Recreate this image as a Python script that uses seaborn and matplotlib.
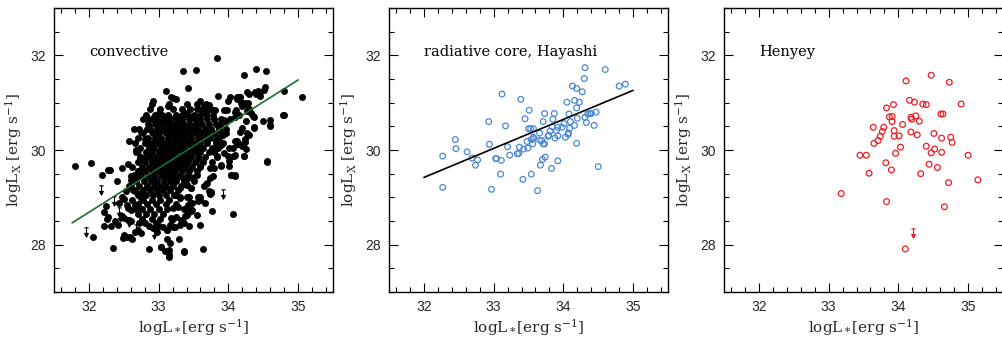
import numpy as np
import pandas as pd
import matplotlib
matplotlib.use("Agg")
import matplotlib.pyplot as plt
import seaborn as sns
from matplotlib.path import Path
from matplotlib.ticker import MultipleLocator

# ---------------- data ----------------
# Panel 1: convective (filled black dots)
conv_core_rows_y = [30.97, 30.86, 30.75, 30.65, 30.55, 30.45, 30.35, 30.25, 30.15, 30.05,
                    29.95, 29.85, 29.75, 29.65, 29.55, 29.45, 29.35, 29.25, 29.15, 29.05]
conv_core_rows_x = [
    [32.90, 33.15, 33.40, 33.55, 33.68],
    [32.88, 33.02, 33.20, 33.33, 33.45, 33.55, 33.62, 33.72],
    [32.82, 32.95, 33.05, 33.14, 33.25, 33.35, 33.42, 33.50, 33.60, 33.68, 33.78],
    [32.78, 32.90, 32.98, 33.08, 33.17, 33.26, 33.34, 33.43, 33.52, 33.60, 33.70, 33.80, 33.90],
    [32.85, 32.95, 33.03, 33.12, 33.20, 33.28, 33.36, 33.45, 33.53, 33.62, 33.72, 33.82],
    [32.72, 32.88, 32.98, 33.06, 33.15, 33.23, 33.32, 33.40, 33.48, 33.57, 33.66, 33.75, 33.86, 33.96],
    [32.78, 32.92, 33.01, 33.10, 33.18, 33.27, 33.35, 33.44, 33.52, 33.61, 33.70, 33.80, 33.90],
    [32.70, 32.85, 32.95, 33.04, 33.13, 33.22, 33.30, 33.38, 33.47, 33.56, 33.65, 33.74, 33.84],
    [32.66, 32.80, 32.90, 32.99, 33.08, 33.17, 33.25, 33.33, 33.42, 33.51, 33.60, 33.70, 33.82, 33.93],
    [32.74, 32.86, 32.94, 33.03, 33.12, 33.20, 33.29, 33.37, 33.46, 33.55, 33.64, 33.76],
    [32.68, 32.82, 32.91, 33.00, 33.08, 33.16, 33.24, 33.33, 33.42, 33.50, 33.60, 33.72],
    [32.75, 32.86, 32.95, 33.04, 33.12, 33.21, 33.29, 33.38, 33.47, 33.56, 33.66],
    [32.70, 32.80, 32.90, 32.99, 33.08, 33.17, 33.25, 33.33, 33.42, 33.52, 33.63, 33.76],
    [32.62, 32.76, 32.86, 32.95, 33.03, 33.12, 33.20, 33.29, 33.38, 33.48, 33.60],
    [32.70, 32.81, 32.90, 32.99, 33.08, 33.16, 33.24, 33.33, 33.44, 33.55],
    [32.60, 32.74, 32.85, 32.94, 33.03, 33.12, 33.20, 33.29, 33.40],
    [32.68, 32.79, 32.89, 32.98, 33.07, 33.16, 33.25, 33.36, 33.50],
    [32.58, 32.72, 32.83, 32.93, 33.02, 33.11, 33.20, 33.32],
    [32.65, 32.77, 32.88, 32.97, 33.06, 33.16, 33.28],
    [32.70, 32.82, 32.92, 33.01, 33.10, 33.22],
]
conv_lower_rows_y = [28.95, 28.85, 28.75, 28.65, 28.55, 28.45]
conv_lower_rows_x = [
    [32.62, 32.78, 32.90, 33.02, 33.15],
    [32.70, 32.84, 32.96, 33.10],
    [32.76, 32.88, 33.00, 33.12],
    [32.70, 32.82, 32.94, 33.06],
    [32.76, 32.90, 33.02],
    [32.72, 32.96],
]
conv_x = [31.80, 32.03, 32.06, 32.19, 32.24, 32.27, 32.30, 32.35, 32.40, 32.48, 32.56, 32.49, 32.55, 32.62,
          32.58, 32.64, 32.86, 33.04, 33.09, 33.15, 33.15, 33.37, 33.63, 33.29, 33.12, 33.16, 33.59, 33.77,
          34.07, 34.09, 34.04, 33.84, 33.54, 33.35, 33.42, 33.10, 33.20, 33.25, 33.18, 32.92, 33.59, 34.22,
          34.40, 34.54, 34.02, 33.85, 34.80, 35.05, 34.80, 34.59, 34.60, 34.50, 34.56, 34.37, 34.37,
          34.27, 34.30, 34.38, 34.42, 34.40, 34.45, 34.46, 34.51, 34.52, 34.17, 34.12, 34.16,
          34.20, 34.26, 34.29, 34.19, 34.11, 33.98, 34.02, 34.10, 34.26, 34.24, 34.21, 34.13, 34.15,
          34.10, 34.23, 34.02, 34.01, 34.01, 33.90, 33.84, 33.70, 33.65, 33.73, 33.75, 33.60, 33.57,
          33.46, 33.44, 33.43, 33.38, 33.48, 33.30, 33.25, 33.19, 33.12, 33.21,
          33.72, 33.65, 33.75, 33.81, 33.68, 33.94, 34.00, 34.13, 34.18, 34.24, 34.28, 34.27, 34.36, 34.32,
          34.09, 33.94, 33.97, 33.85, 33.88, 34.25, 34.59, 34.78, 34.15, 34.20, 34.16, 34.37, 34.30, 34.24,
          33.97, 33.92, 33.86, 33.82, 33.89, 33.85, 33.80, 34.09, 34.13, 34.06, 34.20, 34.25,
          33.94, 33.83, 33.99, 33.42, 33.56, 34.01, 34.08, 34.22, 34.55, 33.73, 33.79, 33.90, 34.04, 34.10,
          33.47, 33.59, 33.51, 33.55, 33.42, 33.68, 33.74, 33.78, 33.75, 33.72, 33.40, 33.47,
          33.44, 33.59, 33.56, 33.67, 33.45, 33.39, 33.46, 33.48, 33.55,
          33.13, 33.00, 33.01, 32.97, 33.12, 33.23, 33.16, 33.39, 33.34, 32.84, 32.94,
          32.83, 32.75, 32.86, 32.90, 32.67, 32.70, 32.74, 32.81, 32.83, 32.73, 32.75, 32.80,
          32.70, 32.70, 32.64, 32.75, 32.61, 32.61, 32.63, 32.53, 32.68, 32.73, 32.75,
          32.47, 32.51, 32.54, 32.43, 32.56, 32.61, 32.66, 32.68, 32.47, 32.51, 32.56, 32.61,
          32.37, 32.42, 32.22, 32.28, 32.26, 32.22, 32.32, 32.51, 32.59, 32.66, 32.70, 32.75,
          32.81, 32.86, 32.92, 32.97, 33.01, 33.06, 33.12, 33.16, 33.23, 33.30, 33.37, 33.43,
          33.15, 33.04, 33.36, 33.18, 33.25, 33.32, 33.40, 33.20, 33.28, 33.36, 33.42, 33.30, 33.40,
          33.25, 33.30, 33.40, 33.35, 33.42]
conv_y = [29.67, 29.72, 28.17, 29.48, 28.82, 29.58, 29.58, 27.94, 29.35, 29.63, 29.70, 28.14, 28.16, 28.12,
          30.18, 30.45, 27.90, 27.95, 27.87, 27.80, 27.73, 27.87, 27.90, 28.11, 28.11, 28.03, 28.41, 28.71,
          28.65, 29.47, 29.47, 31.95, 31.70, 31.66, 31.32, 31.24, 31.10, 31.08, 31.11, 31.04, 31.03, 31.58,
          31.71, 31.66, 31.13, 31.14, 31.25, 31.13, 30.75, 30.63, 30.51, 30.61, 29.75, 30.46, 30.70,
          31.23, 31.18, 31.23, 31.25, 31.18, 31.15, 31.22, 31.27, 31.34, 31.11, 31.11, 31.12,
          30.94, 30.96, 30.87, 30.99, 30.85, 30.85, 30.65, 30.69, 30.35, 30.16, 30.09, 30.18, 30.13,
          29.89, 29.87, 29.85, 30.04, 29.66, 29.68, 29.87, 29.30, 29.25, 29.07, 29.10, 28.94, 29.01,
          29.19, 28.71, 28.69, 28.61, 28.87, 29.01, 28.85, 28.52, 28.31, 28.38,
          30.95, 30.93, 30.87, 30.84, 30.78, 30.85, 31.04, 31.07, 30.99, 30.99, 30.99, 30.82, 30.72, 30.78,
          30.80, 30.63, 30.60, 30.51, 30.53, 30.61, 30.53, 30.75, 30.73, 30.46, 30.37, 30.49, 30.32, 30.23,
          30.35, 30.32, 30.25, 30.19, 30.11, 30.04, 29.96, 30.18, 30.12, 30.04, 30.08, 30.03,
          29.93, 29.86, 29.87, 29.82, 29.82, 29.77, 29.88, 29.87, 29.77, 29.61, 29.63, 29.67, 29.47, 29.46,
          29.61, 29.66, 29.44, 29.47, 29.40, 29.28, 29.40, 29.45, 29.12, 29.14, 29.26, 29.19,
          29.01, 29.01, 28.93, 28.87, 28.87, 28.78, 28.71, 28.73, 28.63,
          30.94, 30.79, 30.60, 30.61, 30.63, 30.70, 30.56, 30.79, 30.74, 30.68, 30.70,
          30.45, 30.37, 30.49, 30.39, 30.00, 29.98, 29.82, 30.24, 30.14, 29.86, 29.79, 29.84,
          29.56, 29.46, 29.47, 29.46, 29.37, 29.25, 29.16, 29.13, 29.12, 29.06, 28.98,
          29.01, 28.97, 28.84, 28.87, 28.77, 28.73, 28.84, 28.75, 28.61, 28.56, 28.52, 28.49,
          28.49, 28.41, 28.68, 28.59, 28.54, 28.40, 28.39, 28.20, 28.17, 28.27, 28.31, 28.24,
          28.45, 28.40, 28.36, 28.27, 28.40, 28.38, 28.31, 28.42, 28.38, 28.42, 28.45, 28.40,
          27.89, 27.96, 27.85, 28.56, 28.59, 28.52, 28.63, 28.77, 28.80, 28.75, 28.84, 28.98, 29.01,
          29.05, 29.19, 29.26, 29.40, 29.47]
conv_ul_x = [32.18, 32.36, 32.43, 32.44, 32.57, 32.68, 31.96, 32.94, 33.92]
conv_ul_y = [29.15, 28.92, 28.70, 28.58, 28.48, 28.33, 28.27, 28.22, 29.08]
conv_fit_x = [31.76, 35.00]
conv_fit_y = [28.46, 31.48]

# Panel 2: radiative core, Hayashi (open blue circles)
rad_x = [32.27, 32.27, 32.45, 32.46, 32.62, 32.69, 32.74, 32.77, 32.93, 32.94, 32.97, 33.03, 33.04,
         33.10, 33.11, 33.12, 33.17, 33.20, 33.23, 33.34, 33.36, 33.37, 33.39, 33.42, 33.43, 33.45,
         33.49, 33.48, 33.50, 33.51, 33.53, 33.54, 33.54, 33.56, 33.57, 33.57, 33.57, 33.63, 33.66,
         33.66, 33.67, 33.69, 33.70, 33.71, 33.71, 33.73, 33.73, 33.74, 33.78, 33.79, 33.81, 33.83,
         33.84, 33.85, 33.87, 33.88, 33.90, 33.92, 33.92, 33.92, 33.98, 34.01, 34.03, 34.05, 34.07,
         34.07, 34.08, 34.09, 34.10, 34.13, 34.16, 34.16, 34.19, 34.19, 34.19, 34.20, 34.23, 34.27,
         34.30, 34.31, 34.31, 34.33, 34.35, 34.38, 34.40, 34.44, 34.47, 34.50, 34.60, 34.80, 34.89]
rad_y = [29.87, 29.21, 30.22, 30.03, 29.96, 29.83, 29.68, 29.79, 30.60, 30.12, 29.17, 29.82, 29.82,
         29.49, 29.78, 31.18, 30.51, 30.07, 29.89, 29.92, 29.93, 30.06, 31.07, 29.38, 30.02, 30.66,
         30.04, 30.18, 30.45, 30.84, 30.45, 29.49, 30.22, 30.13, 30.45, 30.24, 30.27, 29.14, 30.36,
         30.21, 29.68, 30.20, 29.80, 30.60, 30.13, 30.13, 30.77, 29.85, 30.29, 30.31, 30.40, 29.61,
         30.49, 30.65, 30.77, 30.25, 30.41, 30.30, 30.48, 29.77, 30.48, 30.56, 30.27, 31.01, 30.36,
         30.33, 30.76, 30.46, 30.60, 31.35, 30.52, 31.05, 31.30, 30.89, 30.14, 30.67, 31.01, 31.23,
         31.51, 31.74, 30.69, 30.58, 30.76, 30.77, 30.77, 30.52, 30.80, 29.65, 31.70, 31.35, 31.39]
rad_fit_x = [32.00, 35.00]
rad_fit_y = [29.42, 31.26]

# Panel 3: Henyey (open red circles)
hen_x = [33.18, 33.45, 33.54, 33.58, 33.64, 33.65, 33.71, 33.74, 33.77, 33.79, 33.82, 33.83, 33.83,
         33.87, 33.91, 33.90, 33.91, 33.93, 33.94, 33.94, 33.96, 34.01, 34.03, 34.06, 34.10, 34.11,
         34.16, 34.18, 34.18, 34.19, 34.23, 34.25, 34.27, 34.30, 34.32, 34.35, 34.40, 34.40, 34.44,
         34.47, 34.47, 34.51, 34.52, 34.56, 34.61, 34.62, 34.62, 34.64, 34.66, 34.72, 34.73, 34.75,
         34.77, 34.90, 35.00, 35.14]
hen_y = [29.08, 29.89, 29.89, 29.51, 30.48, 30.14, 30.20, 30.29, 30.39, 30.48, 29.73, 28.91, 30.89,
         30.70, 30.71, 29.58, 30.60, 30.96, 30.41, 30.29, 29.93, 30.30, 30.06, 30.54, 27.91, 31.46,
         31.05, 30.38, 30.69, 30.65, 31.01, 30.72, 30.32, 30.61, 29.50, 30.97, 30.96, 30.08, 29.70,
         29.94, 31.58, 30.35, 30.02, 29.63, 30.76, 30.25, 29.95, 30.76, 28.80, 29.31, 31.43, 30.27,
         30.16, 30.97, 29.89, 29.37]
hen_ul_x = [34.21]
hen_ul_y = [28.24]

panel_titles = ["convective", "radiative core, Hayashi", "Henyey"]

# ---------------- style ----------------
sns.set_theme(style="white")
plt.rcParams["font.family"] = ["DejaVu Serif"]
plt.rcParams["mathtext.fontset"] = "dejavuserif"

BLUE = "#4a88d4"
RED = "#ee1c24"
GREEN = "#1f6b35"

# upper-limit marker: bar on top, stem, arrowhead at bottom
ul_marker = Path(
    [(-0.45, 1.0), (0.45, 1.0), (0.0, 1.0), (0.0, -0.3),
     (-0.4, -0.2), (0.0, -1.0), (0.4, -0.2), (-0.4, -0.2)],
    [Path.MOVETO, Path.LINETO, Path.MOVETO, Path.LINETO,
     Path.MOVETO, Path.LINETO, Path.LINETO, Path.CLOSEPOLY])

fig = plt.figure(figsize=(10.03, 3.38), dpi=100)
W = 279 / 1003
H = 284 / 338
B = 46 / 338
lefts = [54 / 1003, 389 / 1003, 724 / 1003]
axes = [fig.add_axes([l, B, W, H]) for l in lefts]

# expand core rows
cx, cy = [], []
for yv, xs in zip(conv_core_rows_y + conv_lower_rows_y, conv_core_rows_x + conv_lower_rows_x):
    cx.extend(xs)
    cy.extend([yv] * len(xs))
df_conv = pd.DataFrame({"x": list(conv_x) + cx, "y": list(conv_y) + cy})

ax = axes[0]
sns.scatterplot(data=df_conv, x="x", y="y", ax=ax, color="black", s=25, linewidth=0, marker="o")
sns.scatterplot(x=conv_ul_x, y=conv_ul_y, ax=ax, marker=ul_marker, s=45, color="black",
                linewidth=0.8, edgecolor="black")
ax.plot(conv_fit_x, conv_fit_y, color=GREEN, lw=1.2)

ax = axes[1]
sns.scatterplot(x=rad_x, y=rad_y, ax=ax, marker="o", s=17, linewidth=0.9)
coll = ax.collections[-1]
coll.set_facecolor("none")
coll.set_edgecolor(BLUE)
ax.plot(rad_fit_x, rad_fit_y, color="black", lw=1.2)

ax = axes[2]
sns.scatterplot(x=hen_x, y=hen_y, ax=ax, marker="o", s=17, linewidth=0.9)
coll = ax.collections[-1]
coll.set_facecolor("none")
coll.set_edgecolor(RED)
sns.scatterplot(x=hen_ul_x, y=hen_ul_y, ax=ax, marker=ul_marker, s=45, color=RED,
                linewidth=0.8, edgecolor=RED)

for ax, title in zip(axes, panel_titles):
    ax.set_xlim(31.5, 35.5)
    ax.set_ylim(27.0, 33.0)
    ax.xaxis.set_major_locator(MultipleLocator(1))
    ax.xaxis.set_minor_locator(MultipleLocator(0.2))
    ax.yaxis.set_major_locator(MultipleLocator(2))
    ax.yaxis.set_minor_locator(MultipleLocator(0.5))
    ax.tick_params(which="both", direction="in", top=True, right=True, bottom=True, left=True,
                   color="black", width=0.8)
    ax.tick_params(which="major", length=6.5, labelsize=10, pad=6, labelfontfamily="Liberation Sans")
    ax.tick_params(which="minor", length=3.5)
    for sp in ax.spines.values():
        sp.set_color("black")
        sp.set_linewidth(1.0)
    ax.set_xlabel(r"logL$_*$[erg s$^{-1}$]", fontsize=11, labelpad=2)
    ax.set_ylabel(r"logL$_{\rm X}$ [erg s$^{-1}$]", fontsize=11, labelpad=4)
    ax.text(32.0, 32.08, title, fontsize=10.5, ha="left", va="center", color="black")
    ax.set_facecolor("white")

fig.savefig("out.png", dpi=100, facecolor="white")
